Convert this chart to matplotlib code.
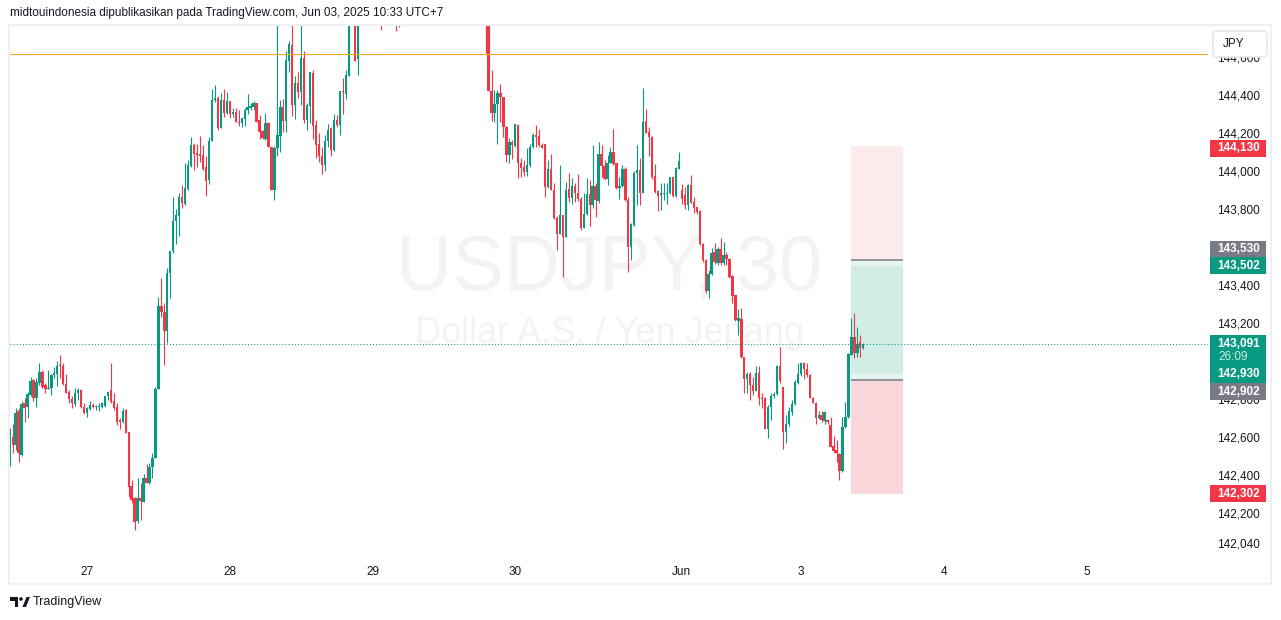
import matplotlib
matplotlib.use("Agg")
import matplotlib.pyplot as plt
from matplotlib.patches import Rectangle, FancyBboxPatch, Circle, Polygon
from matplotlib.transforms import IdentityTransform
import numpy as np

plt.rcParams['font.family'] = ['Liberation Sans', 'DejaVu Sans']

# USDJPY 30m candles (open, high, low, close), UTC+7.
# bar 0 = May 27 00:00; the chart starts at bar -26 (May 26 11:00).
# bars 89..133 run above the visible top of the pane, so those are rough guesses.
may26 = [
    (142.449, 142.646, 142.449, 142.602), (142.602, 142.667, 142.518, 142.558),
    (142.558, 142.751, 142.532, 142.725), (142.734, 142.751, 142.470, 142.514),
    (142.506, 142.790, 142.500, 142.774), (142.777, 142.804, 142.676, 142.751),
    (142.755, 142.839, 142.702, 142.827), (142.818, 142.914, 142.813, 142.895),
    (142.900, 142.904, 142.791, 142.807), (142.807, 142.909, 142.755, 142.891),
    (142.886, 142.988, 142.874, 142.942), (142.944, 142.953, 142.856, 142.865),
    (142.874, 142.883, 142.830, 142.851), (142.851, 142.953, 142.851, 142.860),
    (142.856, 142.930, 142.818, 142.927), (142.927, 142.970, 142.909, 142.935),
    (142.930, 142.997, 142.870, 142.974), (142.977, 143.032, 142.909, 142.974),
    (142.974, 142.991, 142.874, 142.877), (142.877, 142.932, 142.830, 142.830),
    (142.834, 142.848, 142.777, 142.799), (142.802, 142.813, 142.751, 142.777),
    (142.774, 142.856, 142.763, 142.830), (142.830, 142.860, 142.795, 142.848),
    (142.848, 142.851, 142.751, 142.756), (142.760, 142.781, 142.721, 142.725),
]
may27 = [
    (142.725, 142.756, 142.707, 142.751), (142.748, 142.790, 142.742, 142.769),
    (142.769, 142.777, 142.751, 142.756), (142.756, 142.769, 142.742, 142.760),
    (142.756, 142.781, 142.739, 142.763), (142.756, 142.786, 142.751, 142.777),
    (142.763, 142.816, 142.756, 142.813), (142.813, 142.839, 142.795, 142.839),
    (142.848, 142.988, 142.777, 142.786), (142.790, 142.830, 142.742, 142.751),
    (142.755, 142.777, 142.663, 142.681), (142.690, 142.699, 142.641, 142.681),
    (142.681, 142.751, 142.672, 142.739), (142.742, 142.746, 142.620, 142.623),
    (142.627, 142.627, 142.286, 142.339), (142.342, 142.374, 142.251, 142.269),
    (142.276, 142.286, 142.111, 142.151), (142.155, 142.383, 142.146, 142.281),
    (142.281, 142.356, 142.163, 142.263), (142.260, 142.406, 142.256, 142.383),
    (142.383, 142.458, 142.356, 142.356), (142.356, 142.462, 142.353, 142.444),
    (142.441, 142.518, 142.383, 142.488), (142.488, 142.865, 142.488, 142.851),
    (142.851, 143.339, 142.851, 143.290), (143.290, 143.435, 143.230, 143.256),
    (143.260, 143.307, 142.976, 143.155), (143.155, 143.488, 143.093, 143.462),
    (143.462, 143.581, 143.330, 143.579), (143.576, 143.865, 143.570, 143.737),
    (143.737, 143.799, 143.616, 143.769), (143.763, 143.886, 143.658, 143.865),
    (143.865, 143.927, 143.804, 143.830), (143.827, 144.041, 143.821, 143.909),
    (143.906, 144.055, 143.897, 144.032), (144.028, 144.176, 144.023, 144.137),
    (144.137, 144.146, 144.006, 144.090), (144.093, 144.142, 144.020, 144.084),
    (144.088, 144.184, 144.049, 144.076), (144.084, 144.137, 144.006, 144.011),
    (144.023, 144.076, 143.870, 143.949), (143.953, 144.178, 143.930, 144.160),
    (144.160, 144.432, 144.160, 144.374), (144.374, 144.453, 144.365, 144.383),
    (144.383, 144.395, 144.216, 144.225), (144.225, 144.409, 144.225, 144.374),
    (144.374, 144.432, 144.286, 144.304), (144.304, 144.413, 144.300, 144.369),
]
may28 = [
    (144.369, 144.369, 144.277, 144.300), (144.300, 144.330, 144.286, 144.309),
    (144.309, 144.330, 144.255, 144.260), (144.260, 144.318, 144.237, 144.251),
    (144.251, 144.281, 144.230, 144.277), (144.272, 144.330, 144.237, 144.321),
    (144.318, 144.406, 144.300, 144.335), (144.330, 144.356, 144.318, 144.342),
    (144.335, 144.370, 144.318, 144.356), (144.356, 144.360, 144.260, 144.260),
    (144.269, 144.295, 144.167, 144.207), (144.211, 144.216, 144.167, 144.172),
    (144.169, 144.304, 144.163, 144.251), (144.251, 144.258, 144.128, 144.128),
    (144.128, 144.128, 143.900, 143.900), (143.900, 144.132, 143.848, 144.123),
    (144.120, 144.950, 144.079, 144.190), (144.186, 144.374, 144.097, 144.335),
    (144.335, 144.379, 144.207, 144.265), (144.265, 144.632, 144.207, 144.584),
    (144.581, 144.686, 144.523, 144.669), (144.663, 144.850, 144.290, 144.348),
    (144.348, 144.500, 144.272, 144.462), (144.462, 144.523, 144.383, 144.413),
    (144.413, 144.870, 144.348, 144.593), (144.593, 144.632, 144.251, 144.269),
    (144.269, 144.360, 144.216, 144.348), (144.342, 144.523, 144.251, 144.520),
    (144.514, 144.532, 144.167, 144.237), (144.242, 144.269, 144.067, 144.137),
    (144.141, 144.198, 144.049, 144.076), (144.076, 144.128, 143.984, 144.032),
    (144.032, 144.190, 143.997, 144.160), (144.155, 144.248, 144.128, 144.216),
    (144.225, 144.230, 144.076, 144.111), (144.111, 144.300, 144.107, 144.269),
    (144.269, 144.295, 144.230, 144.242), (144.242, 144.423, 144.190, 144.418),
    (144.418, 144.488, 144.300, 144.413), (144.406, 144.532, 144.377, 144.506),
    (144.500, 145.000, 144.500, 144.900), (144.900, 145.050, 144.820, 144.980),
    (144.980, 145.020, 144.576, 144.581), (144.588, 144.950, 144.506, 144.900),
    (144.900, 145.050, 144.850, 145.000), (145.000, 145.080, 144.900, 144.950),
    (144.950, 145.020, 144.850, 144.900), (144.900, 145.000, 144.820, 144.960),
]
may29 = [
    (144.960, 145.050, 144.880, 145.000), (145.000, 145.100, 144.920, 144.950),
    (144.950, 145.000, 144.800, 144.850), (144.850, 144.900, 144.742, 144.820),
    (144.820, 144.950, 144.790, 144.900), (144.900, 145.000, 144.850, 144.950),
    (144.950, 145.000, 144.800, 144.880), (144.880, 144.920, 144.790, 144.850),
    (144.850, 144.870, 144.737, 144.800), (144.800, 144.900, 144.755, 144.880),
    (144.880, 145.600, 144.850, 145.500), (145.500, 145.900, 145.400, 145.800),
    (145.800, 146.200, 145.700, 146.100), (146.100, 146.280, 145.900, 146.000),
    (146.000, 146.100, 145.800, 145.850), (145.850, 145.950, 145.700, 145.900),
    (145.900, 146.050, 145.800, 145.950), (145.950, 146.000, 145.700, 145.750),
    (145.750, 145.850, 145.600, 145.650), (145.650, 145.800, 145.550, 145.700),
    (145.700, 145.750, 145.500, 145.550), (145.550, 145.650, 145.400, 145.600),
    (145.600, 145.700, 145.450, 145.500), (145.500, 145.600, 145.350, 145.400),
    (145.400, 145.550, 145.300, 145.500), (145.500, 145.600, 145.350, 145.380),
    (145.380, 145.450, 145.200, 145.250), (145.250, 145.400, 145.150, 145.350),
    (145.350, 145.420, 145.200, 145.220), (145.220, 145.300, 145.100, 145.150),
    (145.150, 145.250, 145.050, 145.200), (145.200, 145.300, 145.100, 145.120),
    (145.120, 145.200, 145.000, 145.050), (145.050, 145.150, 144.950, 145.100),
    (145.100, 145.180, 144.980, 145.000), (145.000, 145.100, 144.900, 145.050),
    (145.050, 145.120, 144.950, 145.000), (145.000, 145.080, 144.900, 144.950),
    (144.950, 145.000, 144.623, 144.820), (144.820, 144.850, 144.423, 144.423),
    (144.423, 144.532, 144.265, 144.304), (144.304, 144.427, 144.260, 144.353),
    (144.353, 144.427, 144.142, 144.409), (144.409, 144.458, 144.260, 144.391),
    (144.391, 144.391, 144.181, 144.230), (144.230, 144.234, 144.049, 144.084),
    (144.084, 144.172, 144.044, 144.150), (144.150, 144.163, 144.062, 144.134),
]
# Friday session runs until Saturday 04:00 (UTC+7)
may30 = [
    (144.132, 144.248, 144.128, 144.248), (144.242, 144.242, 143.962, 144.041),
    (144.041, 144.067, 143.970, 144.018), (144.018, 144.058, 143.974, 143.993),
    (143.993, 144.120, 143.974, 144.032), (144.032, 144.142, 144.023, 144.128),
    (144.128, 144.198, 144.119, 144.190), (144.190, 144.242, 144.128, 144.177),
    (144.184, 144.219, 144.128, 144.137), (144.137, 144.146, 144.119, 144.123),
    (144.142, 144.142, 143.865, 143.914), (143.914, 144.058, 143.909, 144.009),
    (144.009, 144.090, 143.897, 143.897), (143.900, 143.935, 143.746, 143.751),
    (143.754, 143.763, 143.584, 143.668), (143.668, 144.032, 143.668, 143.768),
    (143.768, 143.768, 143.440, 143.654), (143.654, 143.944, 143.654, 143.900),
    (143.905, 143.988, 143.839, 143.856), (143.856, 143.961, 143.826, 143.921),
    (143.918, 143.935, 143.839, 143.883), (143.886, 143.983, 143.844, 143.851),
    (143.853, 143.865, 143.690, 143.702), (143.702, 143.883, 143.698, 143.772),
    (143.772, 143.961, 143.768, 143.877), (143.877, 143.953, 143.711, 143.818),
    (143.818, 144.137, 143.804, 143.918), (143.918, 143.935, 143.760, 143.847),
    (143.844, 144.154, 143.830, 144.090), (144.090, 144.137, 143.967, 144.026),
    (144.026, 144.058, 143.953, 143.956), (143.956, 144.084, 143.926, 144.044),
    (144.044, 144.128, 144.040, 144.097), (144.097, 144.219, 144.032, 144.037),
    (144.040, 144.044, 143.904, 143.909), (143.909, 143.970, 143.851, 143.921),
    (143.921, 144.032, 143.918, 144.009), (144.009, 144.023, 143.844, 143.847),
    (143.847, 143.861, 143.470, 143.598), (143.598, 143.725, 143.532, 143.721),
    (143.716, 143.997, 143.711, 143.991), (143.988, 144.137, 143.821, 144.005),
    (144.005, 144.067, 143.821, 143.886), (143.886, 144.435, 143.883, 144.260),
    (144.263, 144.325, 144.198, 144.202), (144.207, 144.230, 144.079, 144.177),
    (144.181, 144.184, 143.956, 143.970), (143.974, 144.037, 143.883, 143.891),
    (143.895, 143.900, 143.791, 143.870), (143.874, 143.935, 143.795, 143.883),
    (143.879, 143.939, 143.847, 143.886), (143.881, 143.935, 143.826, 143.886),
    (143.883, 143.970, 143.879, 143.967), (143.967, 143.970, 143.865, 143.868),
    (143.868, 144.019, 143.865, 144.014), (144.009, 144.097, 144.009, 144.054),
]
jun02 = [
    (143.900, 143.932, 143.826, 143.851), (143.874, 143.914, 143.798, 143.821),
    (143.821, 143.932, 143.795, 143.926), (143.926, 143.979, 143.830, 143.833),
    (143.839, 143.865, 143.777, 143.804), (143.808, 143.808, 143.774, 143.786),
    (143.790, 143.795, 143.611, 143.614), (143.614, 143.619, 143.523, 143.532),
    (143.532, 143.535, 143.356, 143.370), (143.370, 143.479, 143.330, 143.458),
    (143.458, 143.593, 143.453, 143.570), (143.575, 143.619, 143.510, 143.523),
    (143.517, 143.598, 143.505, 143.588), (143.588, 143.646, 143.505, 143.517),
    (143.514, 143.628, 143.505, 143.558), (143.558, 143.575, 143.505, 143.535),
    (143.535, 143.540, 143.435, 143.440), (143.447, 143.453, 143.307, 143.342),
    (143.347, 143.347, 143.212, 143.216), (143.212, 143.272, 143.137, 143.228),
    (143.221, 143.281, 143.014, 143.019), (143.019, 143.023, 142.830, 142.903),
    (142.903, 142.944, 142.830, 142.930), (142.930, 142.944, 142.795, 142.874),
    (142.874, 142.917, 142.821, 142.844), (142.844, 142.974, 142.844, 142.938),
    (142.938, 142.974, 142.768, 142.803), (142.807, 142.830, 142.751, 142.798),
    (142.803, 142.812, 142.640, 142.642), (142.642, 142.768, 142.593, 142.760),
    (142.756, 142.833, 142.689, 142.817), (142.816, 142.838, 142.803, 142.826),
    (142.826, 142.979, 142.821, 142.975), (142.975, 143.075, 142.882, 142.896),
    (142.865, 142.865, 142.537, 142.624), (142.624, 142.716, 142.567, 142.668),
    (142.668, 142.756, 142.660, 142.737), (142.733, 142.795, 142.716, 142.772),
    (142.772, 142.900, 142.768, 142.888), (142.882, 142.988, 142.879, 142.931),
]
jun03 = [
    (142.931, 142.996, 142.921, 142.991), (142.991, 142.996, 142.903, 142.956),
    (142.956, 142.988, 142.917, 142.926), (142.926, 142.931, 142.803, 142.807),
    (142.807, 142.812, 142.777, 142.781), (142.781, 142.786, 142.668, 142.702),
    (142.702, 142.738, 142.693, 142.716), (142.716, 142.738, 142.681, 142.689),
    (142.686, 142.738, 142.668, 142.733), (142.689, 142.693, 142.668, 142.681),
    (142.663, 142.707, 142.546, 142.549), (142.553, 142.605, 142.514, 142.528),
    (142.531, 142.584, 142.467, 142.514), (142.510, 142.514, 142.374, 142.423),
    (142.423, 142.707, 142.417, 142.651), (142.651, 142.786, 142.646, 142.703),
    (142.703, 143.040, 142.698, 143.035), (143.031, 143.224, 143.031, 143.128),
    (143.128, 143.251, 143.014, 143.044), (143.040, 143.181, 143.023, 143.089),
    (143.102, 143.137, 143.023, 143.067), (143.067, 143.096, 143.061, 143.091),
]
first_bar = -26

day_ticks = [0, 48, 96, 144, 200, 240, 288, 336]
day_labels = ['27', '28', '29', '30', 'Jun', '3', '4', '5']
# 143,600 and 143,000 sit under the price tags in the screenshot, so they are left out
price_ticks = [144.6, 144.4, 144.2, 144.0, 143.8, 143.4, 143.2,
               142.8, 142.6, 142.4, 142.2, 142.04]

orange_level = 144.616
last_price = 143.091
countdown = '26:09'

# position tool: bar span and price levels
pos_bars = (256.9, 274.4)
short_stop, short_entry, short_target = 144.130, 143.530, 142.930
long_target, long_entry, long_stop = 143.502, 142.902, 142.302

header = 'midtouindonesia dipublikasikan pada TradingView.com, Jun 03, 2025 10:33 UTC+7'

UP, DOWN = '#089981', '#f23645'
GREY, TXT = '#787b86', '#131722'

W, H = 1281, 620
fig = plt.figure(figsize=(W / 100, H / 100), dpi=100)
fig.patch.set_facecolor('white')
ax = fig.add_axes([10 / W, 63 / H, 1198 / W, 532 / H])
ax.set_xlim(-25.9, 376.9)
ax.set_ylim(141.968, 144.768)
for s in ax.spines.values():
    s.set_visible(False)

# watermark
ax.text(0.5, 0.54, 'USDJPY, 30', transform=ax.transAxes, ha='center', va='center',
        fontsize=56, color='#f3f3f4', zorder=0)
ax.text(0.5, 0.42, 'Dollar A.S. / Yen Jepang', transform=ax.transAxes, ha='center',
        va='center', fontsize=26, color='#f3f3f4', zorder=0)

# position tool boxes
x0, x1 = pos_bars
ax.add_patch(Rectangle((x0, short_entry), x1 - x0, short_stop - short_entry,
                       facecolor='#fdebec', edgecolor='none', zorder=1))
ax.add_patch(Rectangle((x0, long_entry), x1 - x0, short_entry - long_entry,
                       facecolor='#e5f4f0', edgecolor='none', zorder=1))
ax.add_patch(Rectangle((x0, short_target), x1 - x0, long_target - short_target,
                       facecolor='#d2ede6', edgecolor='none', zorder=1))
ax.add_patch(Rectangle((x0, long_stop), x1 - x0, long_entry - long_stop,
                       facecolor='#fad7db', edgecolor='none', zorder=1))
ax.hlines([short_entry, long_entry], x0, x1, color=GREY, lw=1.1, zorder=2)

# candles
candles = np.array(may26 + may27 + may28 + may29 + may30 + jun02 + jun03)
o, hi, lo, c = candles.T
x = np.arange(len(candles)) + first_bar
cols = np.where(c >= o, UP, DOWN)
ax.vlines(x, lo, hi, colors=cols, lw=0.8, zorder=3)
ax.bar(x, np.maximum(np.abs(c - o), 0.005), bottom=np.minimum(o, c), width=0.78,
       color=cols, linewidth=0, zorder=4)

ax.axhline(orange_level, color='#f5a623', lw=0.8, zorder=5)
ax.axhline(last_price, color=UP, lw=0.75, linestyle=(0, (1, 2)), zorder=5)

# axes ticks
ax.set_xticks(day_ticks, day_labels)
ax.yaxis.tick_right()
ax.set_yticks(price_ticks, [f'{p:.3f}'.replace('.', ',') for p in price_ticks])
ax.tick_params(axis='x', length=0, pad=6.5, labelsize=8.5, labelcolor=TXT)
ax.tick_params(axis='y', length=0, pad=37.4, labelsize=8.5, labelcolor=TXT)
for t in ax.get_yticklabels():
    t.set_ha('right')

ident = IdentityTransform()


def ypix(price):
    return ax.transData.transform((0, price))[1]


def price_tag(price, text, color, shift=0.0, h=17):
    yc = ypix(price) - shift
    fig.add_artist(Rectangle((1210, yc - h / 2), 56, h, facecolor=color,
                             edgecolor='none', transform=ident))
    fig.text(1260, yc, text, transform=ident, ha='right', va='center',
             fontsize=8.5, fontweight='bold', color='white')


price_tag(short_stop, '144,130', DOWN, shift=2)
price_tag(short_entry, '143,530', GREY, shift=-11)
price_tag(long_target, '143,502', UP)
# last price tag with countdown
yl = ypix(last_price)
fig.add_artist(Rectangle((1210, yl - 22), 56, 31, facecolor=UP, edgecolor='none',
                         transform=ident))
fig.text(1260, yl, '143,091', transform=ident, ha='right', va='center',
         fontsize=8.5, fontweight='bold', color='white')
fig.text(1218, yl - 13.5, countdown, transform=ident, ha='left', va='center',
         fontsize=8.5, color='#cdeee6')
price_tag(short_target, '142,930', UP)
price_tag(long_entry, '142,902', GREY, shift=12)
price_tag(long_stop, '142,302', DOWN)

# currency button
fig.add_artist(FancyBboxPatch((1213, H - 57), 54, 26,
                              boxstyle='round,pad=0,rounding_size=4',
                              facecolor='white', edgecolor='#e0e3eb', lw=1,
                              transform=ident))
fig.text(1223, H - 44, 'JPY', transform=ident, ha='left', va='center',
         fontsize=8.5, color=TXT)

# chart frame
fig.add_artist(Rectangle((9, H - 584), 1262, 559, facecolor='none',
                         edgecolor='#eef0f3', lw=1.5, transform=ident))

fig.text(10, H - 13, header, transform=ident, ha='left', va='center',
         fontsize=8.5, color=TXT)

# TradingView logo + name
fig.add_artist(Polygon([(10, H - 597), (18, H - 597), (18, H - 607), (14.5, H - 607),
                        (14.5, H - 600.5), (10, H - 600.5)], closed=True,
                       facecolor=TXT, edgecolor='none', transform=ident))
fig.add_artist(Circle((21, H - 599), 1.8, facecolor=TXT, edgecolor='none',
                      transform=ident))
fig.add_artist(Polygon([(22.5, H - 607), (26, H - 607), (30, H - 597), (26.5, H - 597)],
                       closed=True, facecolor=TXT, edgecolor='none', transform=ident))
fig.text(33, H - 602, 'TradingView', transform=ident, ha='left', va='center',
         fontsize=9, color=TXT)

fig.savefig('out.png', dpi=100)
